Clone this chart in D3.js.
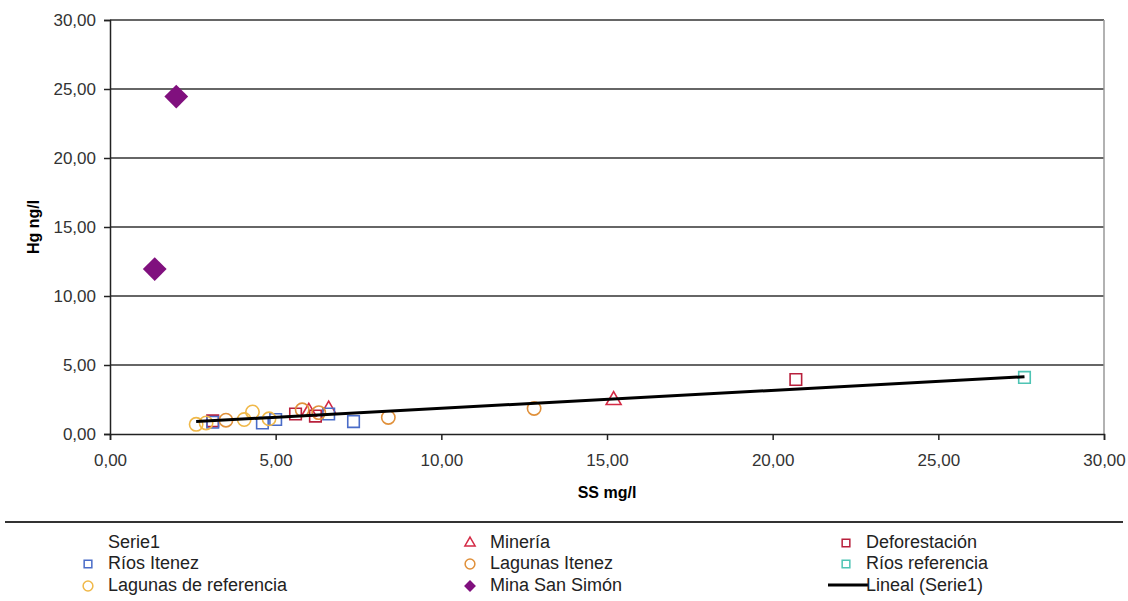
<!DOCTYPE html>
<html>
<head>
<meta charset="utf-8">
<script src="https://cdn.jsdelivr.net/npm/d3@7"></script>
<style>
  body { margin: 0; background: #fff; }
  svg { font-family: "Liberation Sans", Arial, sans-serif; }
</style>
</head>
<body>
<svg></svg>
<script>
const w = 1128;
const h = 601;
const m = { left: 110, right: 24, top: 20, bottom: 167 };

// series values (x = SS mg/l, y = Hg ng/l)
const riosItenezX = [3.1, 4.6, 5.0, 6.6, 7.35];
const riosItenezY = [0.85, 0.8, 1.05, 1.45, 0.9];
const deforestacionX = [3.1, 5.6, 6.2, 20.7];
const deforestacionY = [0.95, 1.45, 1.3, 3.95];
const mineriaX = [6.0, 6.6, 15.2];
const mineriaY = [1.6, 1.75, 2.45];
const lagunasItenezX = [3.5, 5.8, 6.3, 8.4, 12.8];
const lagunasItenezY = [1.0, 1.75, 1.55, 1.2, 1.85];
const riosRefX = [27.6];
const riosRefY = [4.1];
const lagunasRefX = [2.6, 2.9, 4.05, 4.3, 4.8];
const lagunasRefY = [0.7, 0.8, 1.05, 1.6, 1.1];
const minaX = [1.35, 2.0];
const minaY = [11.95, 24.45];

// Lineal (Serie1): intercept, slope, x range
const linealCoef = [0.56, 0.13];
const linealX = [2.6, 27.6];

const xTicks = [0, 5, 10, 15, 20, 25, 30];
const yTicks = [0, 5, 10, 15, 20, 25, 30];

const series = [
    { name: 'Minería', x: mineriaX, y: mineriaY, shape: 'triangle', color: '#d42a45', fill: false },
    { name: 'Deforestación', x: deforestacionX, y: deforestacionY, shape: 'square', color: '#b8203c', fill: false },
    { name: 'Ríos Itenez', x: riosItenezX, y: riosItenezY, shape: 'square', color: '#4a6cc8', fill: false },
    { name: 'Lagunas Itenez', x: lagunasItenezX, y: lagunasItenezY, shape: 'circle', color: '#e0903a', fill: false },
    { name: 'Ríos referencia', x: riosRefX, y: riosRefY, shape: 'square', color: '#4ec4b4', fill: false },
    { name: 'Lagunas de referencia', x: lagunasRefX, y: lagunasRefY, shape: 'circle', color: '#f0b848', fill: false },
    { name: 'Mina San Simón', x: minaX, y: minaY, shape: 'diamond', color: '#80107e', fill: true }
];

const fmt = v => d3.format('.2f')(v).replace('.', ',');

const svg = d3.select('svg')
    .attr('width', w)
    .attr('height', h);

const xScale = d3.scaleLinear().domain([0, 30]).range([m.left, w - m.right]);
const yScale = d3.scaleLinear().domain([0, 30]).range([h - m.bottom, m.top]);

// grid lines
svg.append('g')
    .selectAll('line')
    .data(yTicks.slice(1))
    .enter()
    .append('line')
    .attr('x1', xScale(0))
    .attr('x2', xScale(30))
    .attr('y1', d => yScale(d))
    .attr('y2', d => yScale(d))
    .attr('stroke', '#333')
    .attr('stroke-width', 1.5);

// right border
svg.append('line')
    .attr('x1', xScale(30)).attr('x2', xScale(30))
    .attr('y1', yScale(30)).attr('y2', yScale(0))
    .attr('stroke', '#999')
    .attr('stroke-width', 1.5);

// y-axis
const yAxis = d3.axisLeft(yScale).tickValues(yTicks).tickFormat(fmt).tickSize(6).tickPadding(8);
svg.append('g')
    .attr('transform', 'translate(' + m.left + ',0)')
    .call(yAxis)
    .call(g => g.selectAll('text').attr('font-size', 17).attr('fill', '#333'))
    .call(g => g.selectAll('line, path').attr('stroke', '#222').attr('stroke-width', 1.5));

// x-axis
const xAxis = d3.axisBottom(xScale).tickValues(xTicks).tickFormat(fmt).tickSize(6).tickPadding(14);
svg.append('g')
    .attr('transform', 'translate(0,' + yScale(0) + ')')
    .call(xAxis)
    .call(g => g.selectAll('text').attr('font-size', 17).attr('fill', '#333'))
    .call(g => g.selectAll('line, path').attr('stroke', '#222').attr('stroke-width', 1.5));

// axis titles
svg.append('text')
    .attr('transform', 'translate(39,' + yScale(15) + ') rotate(-90)')
    .attr('text-anchor', 'middle')
    .attr('font-size', 16)
    .attr('font-weight', 'bold')
    .text('Hg ng/l');

svg.append('text')
    .attr('x', (xScale(0) + xScale(30)) / 2)
    .attr('y', 498)
    .attr('text-anchor', 'middle')
    .attr('font-size', 16)
    .attr('font-weight', 'bold')
    .text('SS mg/l');

const symbolFor = s => {
    if (s === 'triangle') return d3.symbolTriangle2;
    if (s === 'circle') return d3.symbolCircle;
    return d3.symbolSquare2;
};
const sizeFor = s => (s === 'triangle' ? 160 : s === 'circle' ? 140 : s === 'diamond' ? 360 : 170);
const rot = s => (s === 'diamond' ? ' rotate(45)' : '');

// points
series.forEach(s => {
    const pts = s.x.map((v, i) => [v, s.y[i]]);
    svg.append('g')
        .selectAll('path')
        .data(pts)
        .enter()
        .append('path')
        .attr('d', d3.symbol().type(symbolFor(s.shape)).size(sizeFor(s.shape)))
        .attr('transform', d => 'translate(' + xScale(d[0]) + ',' + yScale(d[1]) + ')' + rot(s.shape))
        .attr('fill', s.fill ? s.color : 'none')
        .attr('stroke', s.color)
        .attr('stroke-width', s.fill ? 0 : 1.6);
});

// trend line
const line = d3.line()
    .x(d => xScale(d))
    .y(d => yScale(linealCoef[0] + linealCoef[1] * d));
svg.append('path')
    .datum(linealX)
    .attr('d', line)
    .attr('fill', 'none')
    .attr('stroke', '#000')
    .attr('stroke-width', 3);

// legend separator
svg.append('line')
    .attr('x1', 5).attr('x2', 1123)
    .attr('y1', 522).attr('y2', 522)
    .attr('stroke', '#333')
    .attr('stroke-width', 2);

// legend
const legendItems = [
    { name: 'Serie1', shape: null },
    series[0], series[1],
    series[2], series[3], series[4],
    series[5], series[6],
    { name: 'Lineal (Serie1)', shape: 'line' }
];
const colX = [88, 470, 846];
const rowY = [542, 563, 585];

const leg = svg.append('g');
legendItems.forEach((d, i) => {
    const cx = colX[i % 3];
    const cy = rowY[Math.floor(i / 3)];
    if (d.shape === 'line') {
        leg.append('line')
            .attr('x1', cx - 18).attr('x2', cx + 22)
            .attr('y1', cy).attr('y2', cy)
            .attr('stroke', '#000').attr('stroke-width', 3);
    } else if (d.shape) {
        leg.append('path')
            .attr('d', d3.symbol().type(symbolFor(d.shape)).size(d.shape === 'diamond' ? 90 : 75))
            .attr('transform', 'translate(' + cx + ',' + (cy + 1) + ')' + rot(d.shape))
            .attr('fill', d.fill ? d.color : 'none')
            .attr('stroke', d.color)
            .attr('stroke-width', d.fill ? 0 : 1.5);
    }
    leg.append('text')
        .attr('x', cx + 20)
        .attr('y', cy + 6)
        .attr('font-size', 18)
        .attr('fill', '#222')
        .text(d.name);
});
</script>
</body>
</html>
